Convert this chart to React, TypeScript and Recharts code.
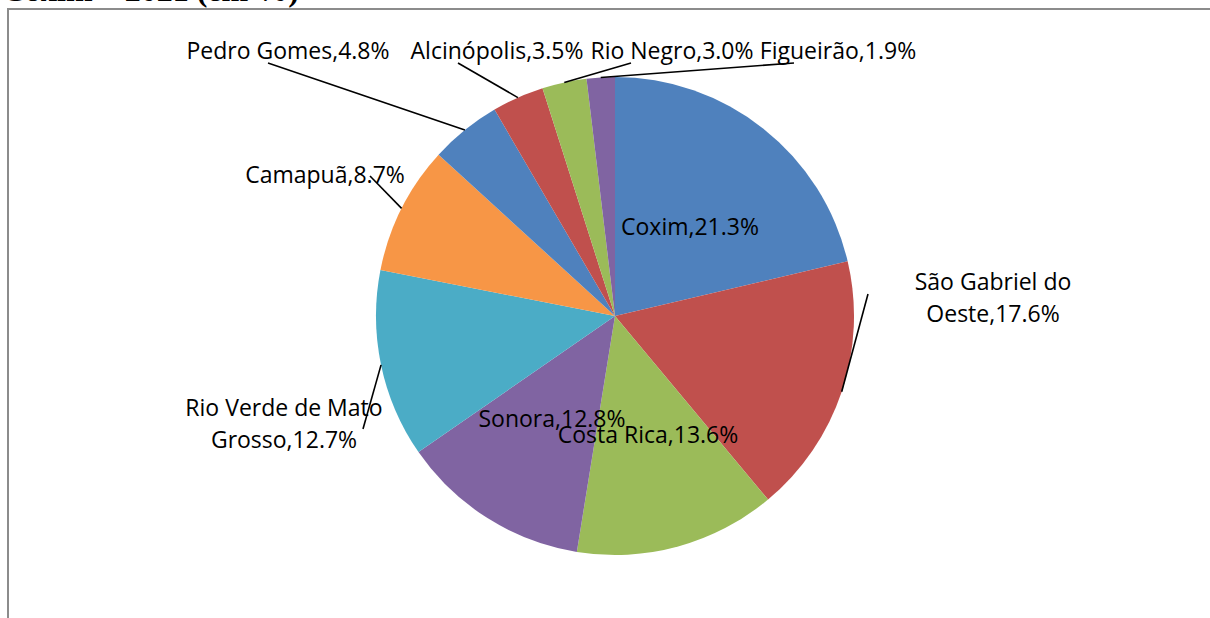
import React from "react";
import { PieChart, Pie, Cell } from "recharts";

// municípios da região de Coxim, participação em 2021 (%)
const categories = [
  "Coxim",
  "São Gabriel do Oeste",
  "Costa Rica",
  "Sonora",
  "Rio Verde de Mato Grosso",
  "Camapuã",
  "Pedro Gomes",
  "Alcinópolis",
  "Rio Negro",
  "Figueirão",
];
const shares = [21.3, 17.6, 13.6, 12.8, 12.7, 8.7, 4.8, 3.5, 3.0, 1.9];
const colors = [
  "#4F81BD",
  "#C0504D",
  "#9BBB59",
  "#8064A2",
  "#4BACC6",
  "#F79646",
  "#4F81BD",
  "#C0504D",
  "#9BBB59",
  "#8064A2",
];

const data = categories.map((name, i) => ({ name, value: shares[i] }));

// posição dos rótulos em relação ao centro (como no Excel, movidos à mão)
// lines: quebra de linha do rótulo; tx/ty: centro do texto; lx/ly: fim da linha guia
const labelLayout: any[] = [
  { lines: 1, tx: 75, ty: -90 },
  { lines: 2, split: "São Gabriel do", tx: 378, ty: -19, lx: 253, ly: -22 },
  { lines: 1, tx: 33, ty: 118 },
  { lines: 1, tx: -63, ty: 102 },
  { lines: 2, split: "Rio Verde de Mato", tx: -331, ty: 107, lx: -252, ly: 113 },
  { lines: 1, tx: -290, ty: -142, lx: -245, ly: -140 },
  { lines: 1, tx: -327, ty: -266, lx: -347, ly: -253 },
  { lines: 1, tx: -118, ty: -266, lx: -157, ly: -253 },
  { lines: 1, tx: 57, ty: -266, lx: 16, ly: -253 },
  { lines: 1, tx: 223, ty: -266, lx: 179, ly: -253 },
];

const RAD = Math.PI / 180;
const FONT = "'Open Sans', sans-serif";
const FONT_SIZE = 23;

const renderLabel = (props: any) => {
  const { cx, cy, midAngle, outerRadius, index, name, value } = props;
  const cfg = labelLayout[index];
  const text = `${name},${Number(value).toFixed(1)}%`;
  const x = cx + cfg.tx;
  const y = cy + cfg.ty;

  let line = null;
  if (cfg.lx !== undefined) {
    const sx = cx + outerRadius * Math.cos(-midAngle * RAD);
    const sy = cy + outerRadius * Math.sin(-midAngle * RAD);
    line = (
      <line
        x1={sx}
        y1={sy}
        x2={cx + cfg.lx}
        y2={cy + cfg.ly}
        stroke="#000"
        strokeWidth={1.6}
      />
    );
  }

  let body;
  if (cfg.lines === 2) {
    const first = cfg.split;
    const rest = text.slice(first.length).trim();
    body = (
      <text
        x={x}
        y={y}
        textAnchor="middle"
        fontFamily={FONT}
        fontSize={FONT_SIZE}
        fill="#000"
      >
        <tspan x={x} dy={-16} dominantBaseline="central">
          {first}
        </tspan>
        <tspan x={x} dy={32} dominantBaseline="central">
          {rest}
        </tspan>
      </text>
    );
  } else {
    body = (
      <text
        x={x}
        y={y}
        textAnchor="middle"
        dominantBaseline="central"
        fontFamily={FONT}
        fontSize={FONT_SIZE}
        fill="#000"
      >
        {text}
      </text>
    );
  }

  return (
    <g key={`label-${index}`}>
      {line}
      {body}
    </g>
  );
};

export default function App() {
  return (
    <div
      style={{
        position: "absolute",
        left: 0,
        top: 0,
        width: 1210,
        height: 618,
        overflow: "hidden",
        background: "#fff",
      }}
    >
      {/* título cortado no topo */}
      <div
        style={{
          position: "absolute",
          left: 2,
          top: -30,
          fontFamily: "'Liberation Serif', serif",
          fontWeight: "bold",
          fontSize: 32,
          lineHeight: "40px",
          whiteSpace: "nowrap",
          color: "#000",
        }}
      >
        Coxim – 2021 (em %)
      </div>
      <div
        style={{
          position: "absolute",
          left: 7,
          top: 8,
          width: 1300,
          height: 700,
          border: "2px solid #8c8c8c",
        }}
      />
      <div style={{ position: "absolute", left: 0, top: 0 }}>
        <PieChart
          width={1210}
          height={618}
          margin={{ top: 0, right: 0, bottom: 0, left: 0 }}
        >
          <Pie
            data={data}
            dataKey="value"
            nameKey="name"
            cx={615}
            cy={316}
            outerRadius={239}
            startAngle={90}
            endAngle={-270}
            stroke="none"
            label={renderLabel}
            labelLine={false}
            isAnimationActive={false}
          >
            {data.map((entry, index) => (
              <Cell key={`cell-${index}`} fill={colors[index]} />
            ))}
          </Pie>
        </PieChart>
      </div>
    </div>
  );
}
